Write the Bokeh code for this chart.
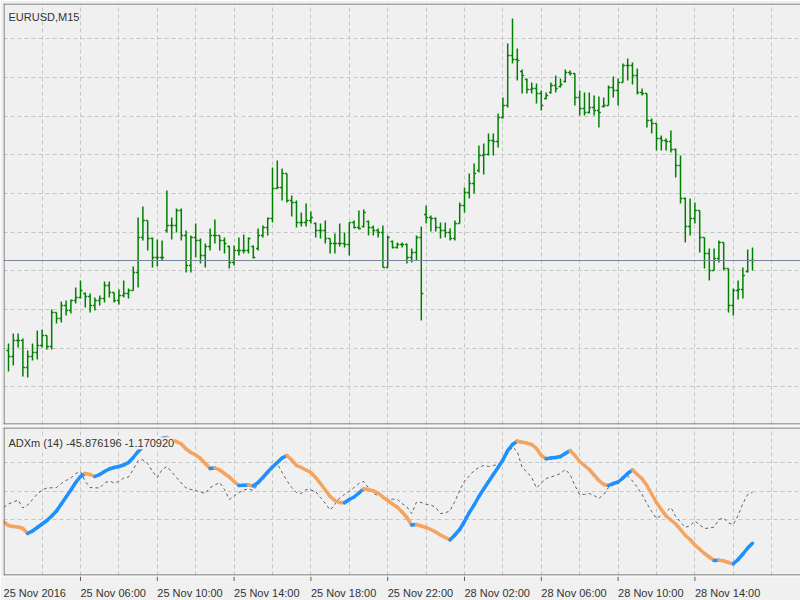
import numpy as np
from bokeh.plotting import figure
from bokeh.layouts import column
from bokeh.models import Range1d, FixedTicker, Span, Label
from bokeh.core.properties import value
from bokeh.embed import file_html
from bokeh.resources import INLINE

# ---------------- data ----------------
symbol_text = "EURUSD,M15"
indicator_text = "ADXm (14) -45.876196 -1.170920"
time_labels = ["25 Nov 2016", "25 Nov 06:00", "25 Nov 10:00", "25 Nov 14:00", "25 Nov 18:00",
               "25 Nov 22:00", "28 Nov 02:00", "28 Nov 06:00", "28 Nov 10:00", "28 Nov 14:00"]
label_bars = [-1.04, 15, 31, 47, 63, 79, 95, 111, 127, 143]

opens = [
    1.05820, 1.05808, 1.05840, 1.05840, 1.05786, 1.05808, 1.05816, 1.05830, 1.05850, 1.05828,
    1.05896, 1.05884, 1.05910, 1.05900, 1.05920, 1.05926, 1.05934, 1.05928, 1.05910, 1.05920,
    1.05924, 1.05950, 1.05936, 1.05920, 1.05930, 1.05934, 1.05940, 1.05976, 1.06046, 1.06080,
    1.06044, 1.06006, 1.06006, 1.06060, 1.06070, 1.06070, 1.06100, 1.06050, 1.05990, 1.06046,
    1.06040, 1.06010, 1.06028, 1.06050, 1.06050, 1.06040, 1.06028, 1.05996, 1.06020, 1.06020,
    1.06020, 1.06028, 1.06024, 1.06050, 1.06066, 1.06084, 1.06144, 1.06146, 1.06174, 1.06120,
    1.06116, 1.06076, 1.06076, 1.06080, 1.06074, 1.06060, 1.06060, 1.06044, 1.06034, 1.06034,
    1.06034, 1.06032, 1.06076, 1.06066, 1.06068, 1.06078, 1.06066, 1.06060, 1.06056, 1.05986,
    1.06038, 1.06026, 1.06032, 1.06032, 1.06006, 1.06016, 1.06046, 1.06092, 1.06086, 1.06084,
    1.06066, 1.06060, 1.06056, 1.06044, 1.06074, 1.06110, 1.06136, 1.06154, 1.06180, 1.06210,
    1.06212, 1.06240, 1.06238, 1.06286, 1.06310, 1.06410, 1.06402, 1.06378, 1.06362, 1.06342,
    1.06344, 1.06334, 1.06324, 1.06336, 1.06350, 1.06348, 1.06358, 1.06376, 1.06374, 1.06326,
    1.06304, 1.06296, 1.06306, 1.06300, 1.06308, 1.06310, 1.06346, 1.06340, 1.06356, 1.06390,
    1.06390, 1.06370, 1.06336, 1.06334, 1.06280, 1.06274, 1.06244, 1.06240, 1.06238, 1.06222,
    1.06190, 1.06124, 1.06068, 1.06084, 1.06100, 1.06046, 1.06014, 1.05980, 1.06004, 1.06036,
    1.05984, 1.05910, 1.05940, 1.05942, 1.05978, 1.06000]

highs = [
    1.05834, 1.05854, 1.05854, 1.05844, 1.05820, 1.05834, 1.05860, 1.05862, 1.05850, 1.05902,
    1.05896, 1.05918, 1.05920, 1.05922, 1.05946, 1.05960, 1.05936, 1.05934, 1.05926, 1.05930,
    1.05958, 1.05958, 1.05936, 1.05942, 1.05960, 1.05944, 1.05988, 1.06086, 1.06108, 1.06080,
    1.06046, 1.06042, 1.06040, 1.06140, 1.06086, 1.06104, 1.06104, 1.06060, 1.06050, 1.06074,
    1.06044, 1.06034, 1.06064, 1.06082, 1.06050, 1.06046, 1.06030, 1.06030, 1.06046, 1.06052,
    1.06046, 1.06030, 1.06064, 1.06070, 1.06086, 1.06186, 1.06200, 1.06184, 1.06174, 1.06130,
    1.06120, 1.06096, 1.06114, 1.06098, 1.06076, 1.06074, 1.06080, 1.06044, 1.06054, 1.06074,
    1.06056, 1.06076, 1.06080, 1.06100, 1.06102, 1.06080, 1.06070, 1.06064, 1.06070, 1.06050,
    1.06040, 1.06036, 1.06036, 1.06034, 1.06024, 1.06050, 1.06068, 1.06110, 1.06090, 1.06086,
    1.06076, 1.06076, 1.06064, 1.06080, 1.06116, 1.06146, 1.06174, 1.06194, 1.06230, 1.06234,
    1.06254, 1.06254, 1.06294, 1.06326, 1.06434, 1.06484, 1.06424, 1.06382, 1.06364, 1.06356,
    1.06354, 1.06340, 1.06336, 1.06356, 1.06370, 1.06364, 1.06382, 1.06380, 1.06374, 1.06340,
    1.06336, 1.06336, 1.06330, 1.06328, 1.06326, 1.06350, 1.06368, 1.06364, 1.06394, 1.06404,
    1.06396, 1.06384, 1.06344, 1.06334, 1.06284, 1.06274, 1.06250, 1.06244, 1.06260, 1.06224,
    1.06210, 1.06126, 1.06124, 1.06116, 1.06100, 1.06046, 1.06024, 1.06024, 1.06040, 1.06036,
    1.05984, 1.05944, 1.05960, 1.05986, 1.06022, 1.06026]

lows = [
    1.05778, 1.05790, 1.05826, 1.05768, 1.05766, 1.05800, 1.05802, 1.05826, 1.05822, 1.05822,
    1.05874, 1.05876, 1.05890, 1.05894, 1.05914, 1.05924, 1.05906, 1.05896, 1.05900, 1.05910,
    1.05916, 1.05926, 1.05916, 1.05912, 1.05926, 1.05924, 1.05940, 1.05946, 1.06040, 1.06020,
    1.05986, 1.05988, 1.06000, 1.06056, 1.06042, 1.06056, 1.06040, 1.05976, 1.05976, 1.06006,
    1.05994, 1.05986, 1.06020, 1.06034, 1.06020, 1.06014, 1.05984, 1.05990, 1.06010, 1.06014,
    1.06014, 1.06004, 1.06020, 1.06046, 1.06050, 1.06076, 1.06144, 1.06120, 1.06116, 1.06088,
    1.06066, 1.06068, 1.06068, 1.06074, 1.06046, 1.06044, 1.06034, 1.06014, 1.06014, 1.06028,
    1.06026, 1.06010, 1.06064, 1.06062, 1.06066, 1.06050, 1.06050, 1.06046, 1.05986, 1.05986,
    1.06024, 1.06024, 1.06026, 1.05994, 1.05996, 1.06000, 1.05880, 1.06074, 1.06058, 1.06058,
    1.06044, 1.06046, 1.06040, 1.06040, 1.06074, 1.06096, 1.06124, 1.06134, 1.06176, 1.06172,
    1.06210, 1.06210, 1.06226, 1.06284, 1.06306, 1.06394, 1.06360, 1.06334, 1.06334, 1.06334,
    1.06314, 1.06300, 1.06322, 1.06334, 1.06336, 1.06346, 1.06356, 1.06370, 1.06310, 1.06290,
    1.06290, 1.06294, 1.06290, 1.06266, 1.06306, 1.06310, 1.06326, 1.06310, 1.06356, 1.06360,
    1.06352, 1.06332, 1.06330, 1.06266, 1.06254, 1.06220, 1.06220, 1.06220, 1.06216, 1.06166,
    1.06114, 1.06036, 1.06050, 1.06074, 1.06016, 1.05984, 1.05960, 1.05980, 1.05996, 1.05980,
    1.05896, 1.05890, 1.05922, 1.05924, 1.05976, 1.05980]

closes = [
    1.05808, 1.05840, 1.05840, 1.05786, 1.05808, 1.05816, 1.05830, 1.05850, 1.05828, 1.05896,
    1.05884, 1.05910, 1.05900, 1.05920, 1.05926, 1.05940, 1.05928, 1.05910, 1.05920, 1.05924,
    1.05950, 1.05936, 1.05920, 1.05930, 1.05934, 1.05940, 1.05976, 1.06046, 1.06080, 1.06044,
    1.06006, 1.06006, 1.06006, 1.06070, 1.06070, 1.06100, 1.06050, 1.05990, 1.06046, 1.06040,
    1.06010, 1.06028, 1.06050, 1.06050, 1.06040, 1.06034, 1.05996, 1.06020, 1.06020, 1.06020,
    1.06044, 1.06006, 1.06050, 1.06066, 1.06084, 1.06144, 1.06146, 1.06174, 1.06120, 1.06116,
    1.06076, 1.06076, 1.06080, 1.06086, 1.06060, 1.06060, 1.06044, 1.06034, 1.06034, 1.06034,
    1.06032, 1.06076, 1.06066, 1.06064, 1.06096, 1.06066, 1.06060, 1.06056, 1.05986, 1.06046,
    1.06026, 1.06032, 1.06032, 1.06006, 1.06016, 1.06046, 1.05934, 1.06086, 1.06084, 1.06066,
    1.06060, 1.06056, 1.06044, 1.06074, 1.06110, 1.06136, 1.06154, 1.06174, 1.06210, 1.06212,
    1.06240, 1.06238, 1.06286, 1.06310, 1.06410, 1.06402, 1.06400, 1.06370, 1.06342, 1.06344,
    1.06334, 1.06310, 1.06330, 1.06350, 1.06344, 1.06352, 1.06376, 1.06374, 1.06326, 1.06304,
    1.06296, 1.06306, 1.06300, 1.06296, 1.06310, 1.06346, 1.06340, 1.06356, 1.06390, 1.06390,
    1.06370, 1.06336, 1.06334, 1.06280, 1.06274, 1.06244, 1.06240, 1.06238, 1.06222, 1.06190,
    1.06124, 1.06068, 1.06084, 1.06100, 1.06046, 1.06014, 1.05980, 1.06004, 1.06036, 1.05984,
    1.05910, 1.05940, 1.05942, 1.05970, 1.06000, 1.06000]

# indicator buffers, starting one bar before the first visible price bar
adxm_main = [
    -27.19,
    -30.26, -31.14, -31.58, -32.89, -37.28, -35.09, -32.02, -28.95, -25.88, -21.93,
    -17.54, -11.40, -5.26, 0.88, 7.46, 12.72, 15.35, 14.47, 12.72, 14.47,
    17.11, 19.30, 20.61, 21.49, 22.81, 25.00, 29.39, 34.65, 38.60, 40.79,
    43.42, 44.30, 46.05, 46.90, 45.20, 43.40, 41.20, 36.84, 33.77, 31.58,
    28.51, 24.12, 19.74, 20.18, 18.42, 15.35, 12.28, 8.33, 4.82, 5.00,
    5.18, 4.39, 7.46, 11.84, 16.67, 21.05, 25.00, 28.95, 31.14, 27.19,
    22.37, 20.61, 18.42, 16.23, 11.84, 6.58, 0.88, -4.82, -8.33, -10.09,
    -10.35, -7.46, -5.26, -1.75, 1.93, 1.05, 0.18, -1.75, -5.26, -8.33,
    -11.40, -14.21, -18.42, -23.25, -29.82, -29.39, -30.70, -32.02, -33.77, -35.96,
    -38.60, -40.79, -42.81, -38.60, -33.77, -26.75, -18.86, -12.28, -4.82, 1.75,
    8.07, 14.47, 20.61, 27.19, 35.53, 40.79, 43.68, 42.72, 42.02, 40.79,
    37.28, 31.14, 28.25, 28.86, 29.39, 30.26, 32.89, 35.53, 31.14, 25.88,
    22.37, 18.86, 14.04, 9.21, 5.70, 4.82, 6.58, 7.89, 11.40, 15.35,
    18.60, 14.47, 10.70, 4.82, -2.63, -10.09, -16.23, -21.93, -25.44, -28.95,
    -33.77, -39.04, -42.54, -47.37, -51.14, -54.82, -57.89, -60.96, -60.79, -61.23,
    -62.72, -63.86, -60.09, -55.26, -50.00, -45.876196]

adxm_signal = [
    -14.21,
    -11.40, -9.65, -7.89, -14.91, -12.28, -7.46, -2.63, 0.88, 2.63, 2.81,
    3.07, 6.58, 9.21, 11.40, 15.35, 17.11, 8.33, 3.07, 2.81, 2.63,
    7.02, 8.77, 7.02, 8.33, 11.40, 12.28, 18.86, 26.75, 27.37, 24.12,
    17.11, 11.84, 18.86, 21.49, 16.67, 11.84, 7.02, 2.63, 1.32, 0.44,
    -0.88, -2.19, 3.07, 5.26, 7.46, 1.32, -7.46, -4.39, -1.32, 0.88,
    1.75, 0.44, 5.70, 11.40, 16.23, 20.18, 23.86, 16.23, 9.21, 3.07,
    -1.32, -2.19, 1.32, 0.88, -0.44, -5.70, -10.96, -16.67, -11.84, -6.14,
    -3.07, -0.44, 3.07, 6.58, 8.33, 2.63, -2.19, -3.95, -5.70, -7.02,
    -7.19, -7.46, -10.96, -14.04, -19.74, -9.65, -10.09, -11.67, -12.28, -14.47,
    -19.74, -19.30, -17.11, -9.21, 0.44, 8.77, 13.16, 17.98, 20.61, 22.37,
    21.49, 22.37, 23.25, 27.19, 32.89, 38.60, 34.65, 20.61, 16.67, 11.84,
    2.63, 7.02, 10.96, 12.28, 13.60, 15.35, 18.86, 14.47, 4.82, -3.07,
    -3.07, -2.19, -3.95, -6.58, -3.07, 3.07, 5.26, 7.46, 10.09, 13.16,
    8.77, 3.33, -3.07, -10.96, -17.98, -24.12, -21.49, -18.42, -14.47, -22.37,
    -27.19, -32.02, -30.26, -26.32, -29.82, -32.89, -32.46, -31.58, -25.00, -23.68,
    -28.07, -29.39, -21.49, -10.96, -3.07, -1.170920]

# ---------------- style ----------------
BG = "#f0f0f0"
FRAME = "#5f5f5f"
GRID = "#c6c6c6"
BAR = "#008000"
UP = "#1e90ff"
DOWN = "#f4a460"
SIGNAL = "#5e5e5e"
BIDLINE = "#7a8798"
TEXT = "#333333"
FONT = "Liberation Sans"

n = len(closes)
bars = np.arange(n)
ind_x = np.arange(-1, n)

PX = 4.8                      # pixels per bar
X0, X1 = -1.0417, 165.0
vgrid = list(range(7, 166, 8))


def style_grid(fig):
    for g in (fig.xgrid[0], fig.ygrid[0]):
        g.grid_line_color = GRID
        g.grid_line_dash = "4 3"
        g.grid_line_width = 1


def add_frame(fig, y0, y1, ypx):
    # left, top and bottom borders only (the right side is open, as in the terminal)
    fig.add_layout(Span(location=X0 + 0.5 / PX, dimension="height", line_color=FRAME, line_width=1))
    fig.add_layout(Span(location=y1 - 0.5 * ypx, dimension="width", line_color=FRAME, line_width=1))
    fig.add_layout(Span(location=y0 + 0.5 * ypx, dimension="width", line_color=FRAME, line_width=1))


# ---------------- price panel ----------------
P_LO, P_HI = 1.05672, 1.06514
top = figure(width=800, height=425, output_backend="svg", toolbar_location=None,
             x_range=Range1d(X0, X1), y_range=Range1d(P_LO, P_HI),
             x_axis_location=None, y_axis_location=None,
             min_border_left=3, min_border_right=0, min_border_top=3, min_border_bottom=1,
             background_fill_color=BG, border_fill_color=BG, outline_line_color=None)
top.xgrid[0].ticker = FixedTicker(ticks=vgrid)
top.ygrid[0].ticker = FixedTicker(ticks=[1.064434 - k * 0.000773 for k in range(11)])
style_grid(top)

top.segment(bars, lows, bars, highs, line_color=BAR, line_width=1.5)
top.segment(bars - 0.42, opens, bars, opens, line_color=BAR, line_width=1.5)
top.segment(bars, closes, bars + 0.42, closes, line_color=BAR, line_width=1.5)

top.add_layout(Span(location=closes[-1], dimension="width", line_color=BIDLINE, line_width=1))
top.add_layout(Label(x=0, y=1.06488, text=symbol_text, text_font=FONT,
                     text_font_size="11px", text_color=TEXT, text_baseline="alphabetic"))
add_frame(top, P_LO, P_HI, (P_HI - P_LO) / 421.0)

# ---------------- indicator panel ----------------
I_LO, I_HI = -74.12, 55.70
bot = figure(width=800, height=151, output_backend="svg", toolbar_location=None,
             x_range=top.x_range, y_range=Range1d(I_LO, I_HI),
             x_axis_location=None, y_axis_location=None,
             min_border_left=3, min_border_right=0, min_border_top=2, min_border_bottom=1,
             background_fill_color=BG, border_fill_color=BG, outline_line_color=None)
bot.xgrid[0].ticker = FixedTicker(ticks=vgrid)
bot.ygrid[0].ticker = FixedTicker(ticks=[25, 0, -25])
style_grid(bot)

bot.line(ind_x, adxm_signal, line_color=SIGNAL, line_width=1, line_dash="3 3")

main = np.array(adxm_main)
seg_colors = [UP if main[i + 1] > main[i] else DOWN for i in range(len(main) - 1)]
bot.segment(ind_x[:-1], main[:-1], ind_x[1:], main[1:], line_color=seg_colors,
            line_width=3.5, line_cap="round")

bot.add_layout(Label(x=0, y=41.9, text=indicator_text, text_font=FONT,
                     text_font_size="11px", text_color=TEXT, text_baseline="alphabetic",
                     background_fill_color=BG))
add_frame(bot, I_LO, I_HI, (I_HI - I_LO) / 148.0)

# ---------------- time scale strip ----------------
strip = figure(width=800, height=24, output_backend="svg", toolbar_location=None,
               x_range=top.x_range, y_range=Range1d(0, 24),
               x_axis_location=None, y_axis_location=None,
               min_border_left=3, min_border_right=0, min_border_top=0, min_border_bottom=0,
               background_fill_color=BG, border_fill_color=BG, outline_line_color=None)
strip.grid.visible = False
tick_x = label_bars[1:]
strip.segment(tick_x, [24] * len(tick_x), tick_x, [19.5] * len(tick_x),
              line_color=FRAME, line_width=1)
strip.text(x=label_bars, y=[8] * len(label_bars), text=time_labels,
           text_font=value(FONT), text_font_size="11px", text_color=TEXT,
           text_align="left", text_baseline="alphabetic")

layout = column(top, bot, strip, spacing=0)
open("out.html", "w").write(file_html(layout, INLINE))
